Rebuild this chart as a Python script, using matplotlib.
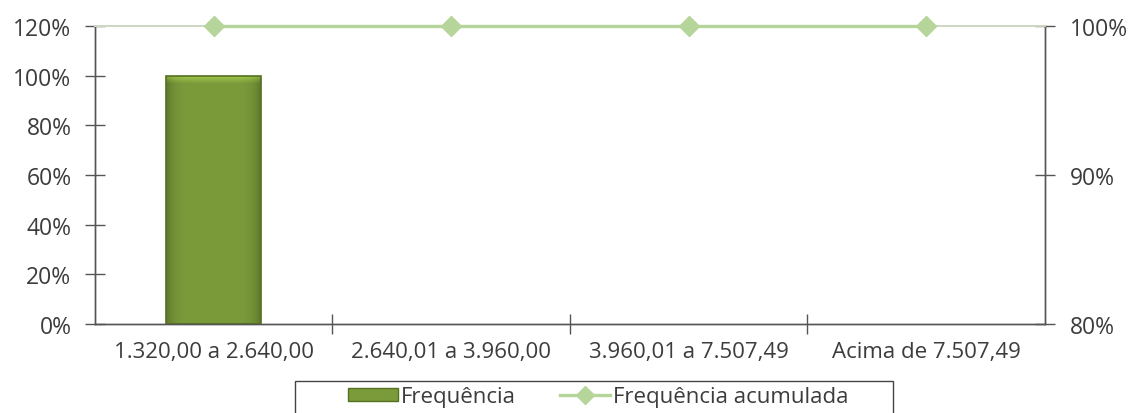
import matplotlib
matplotlib.use("Agg")
import numpy as np
import matplotlib.pyplot as plt
from matplotlib.ticker import FixedLocator, PercentFormatter
from matplotlib.lines import Line2D
from matplotlib.patches import Patch, Rectangle

plt.rcParams['font.family'] = ['Open Sans', 'DejaVu Sans']

categories = ["1.320,00 a 2.640,00", "2.640,01 a 3.960,00",
              "3.960,01 a 7.507,49", "Acima de 7.507,49"]
frequencia = [1.00, 0.0, 0.0, 0.0]
frequencia_acumulada = [1.00, 1.00, 1.00, 1.00]

bar_color = "#7b9b3b"
bar_edge = "#55701f"
line_color = "#b6d59a"
text_color = "#3c3c3c"
axis_color = "#555555"

fig = plt.figure(figsize=(11.35, 4.14), dpi=100)
ax = fig.add_axes([0.0837, 0.215, 0.837, 0.72])
ax2 = ax.twinx()

x = list(range(len(categories)))
bars = ax.bar(x, frequencia, width=0.40, color=bar_color, edgecolor="none",
              linewidth=0, zorder=2)

# bevelled look: darker sides, lighter top band, clipped to each bar
cols = np.linspace(-1, 1, 64)
rows = np.linspace(0, 1, 128)
cx, ry = np.meshgrid(cols, rows)
shade = 0.78 + 0.22 * (1 - np.abs(cx) ** 6)
shade = shade + 0.3 * np.clip((ry - 0.97) / 0.03, 0, 1)
base = np.array([0x7b, 0x9b, 0x3b]) / 255.0
img = np.clip(shade[..., None] * base[None, None, :], 0, 1)
for b in bars:
    if b.get_height() <= 0:
        continue
    x0, w, h = b.get_x(), b.get_width(), b.get_height()
    im = ax.imshow(img, extent=(x0, x0 + w, 0, h), origin="lower",
                   aspect="auto", interpolation="bilinear", zorder=2.5)
    im.set_clip_path(b)
    ax.add_patch(Rectangle((x0, 0), w, h, fill=False, edgecolor=bar_edge,
                           linewidth=1.2, zorder=2.6))

ax2.plot(x, frequencia_acumulada, color=line_color, linewidth=2.4,
         marker="D", markersize=10, markerfacecolor=line_color,
         markeredgecolor=line_color, zorder=3, clip_on=False)

ax.set_xlim(-0.5, len(categories) - 0.5)
ax.set_ylim(0, 1.2)
ax2.set_ylim(0.8, 1.0)

ax.yaxis.set_major_locator(FixedLocator([0, .2, .4, .6, .8, 1.0, 1.2]))
ax.yaxis.set_major_formatter(PercentFormatter(1.0, decimals=0))
ax2.yaxis.set_major_locator(FixedLocator([0.8, 0.9, 1.0]))
ax2.yaxis.set_major_formatter(PercentFormatter(1.0, decimals=0))

# category boundaries carry the tick marks, labels sit at the centres
ax.xaxis.set_major_locator(FixedLocator([0.5, 1.5, 2.5]))
ax.xaxis.set_major_formatter(plt.NullFormatter())
ax.xaxis.set_minor_locator(FixedLocator(x))
ax.set_xticklabels(categories, minor=True)
ax.tick_params(axis="x", which="minor", length=0, pad=12,
               labelsize=16, labelcolor=text_color)
ax.tick_params(axis="x", which="major", direction="inout", length=14,
               width=1, color=axis_color)
ax.tick_params(axis="y", direction="inout", length=14, width=1,
               color=axis_color, labelsize=16.5, labelcolor=text_color, pad=10)
ax2.tick_params(axis="y", direction="inout", length=14, width=1,
                color=axis_color, labelsize=16.5, labelcolor=text_color, pad=11)

for a in (ax, ax2):
    a.spines["top"].set_color("#ccd8c2")
    a.spines["top"].set_linewidth(1.4)
    for s in ("left", "right", "bottom"):
        a.spines[s].set_color(axis_color)
        a.spines[s].set_linewidth(1.0)

ax.set_zorder(ax2.get_zorder() - 1)
ax2.patch.set_visible(False)

handles = [Patch(facecolor=bar_color, edgecolor=bar_edge, label="Frequência"),
           Line2D([0], [0], color=line_color, linewidth=2.4, marker="D",
                  markersize=9, markerfacecolor=line_color,
                  markeredgecolor=line_color, label="Frequência acumulada")]
leg = fig.legend(handles=handles, loc="center", ncol=2,
                 bbox_to_anchor=(0.527, 0.039), frameon=False,
                 fontsize=16, handlelength=2.25, handleheight=0.55,
                 handletextpad=0.12, columnspacing=2.0, borderpad=0.2,
                 labelcolor=text_color)

# legend box, running off the lower edge of the figure
W, H = 1135.0, 414.0
fig.patches.append(Rectangle((295 / W, -0.05), (893 - 295) / W,
                             (H - 382) / H + 0.05, transform=fig.transFigure,
                             fill=False, edgecolor="#444444", linewidth=1.0,
                             zorder=5))

fig.savefig("out.png", dpi=100)
